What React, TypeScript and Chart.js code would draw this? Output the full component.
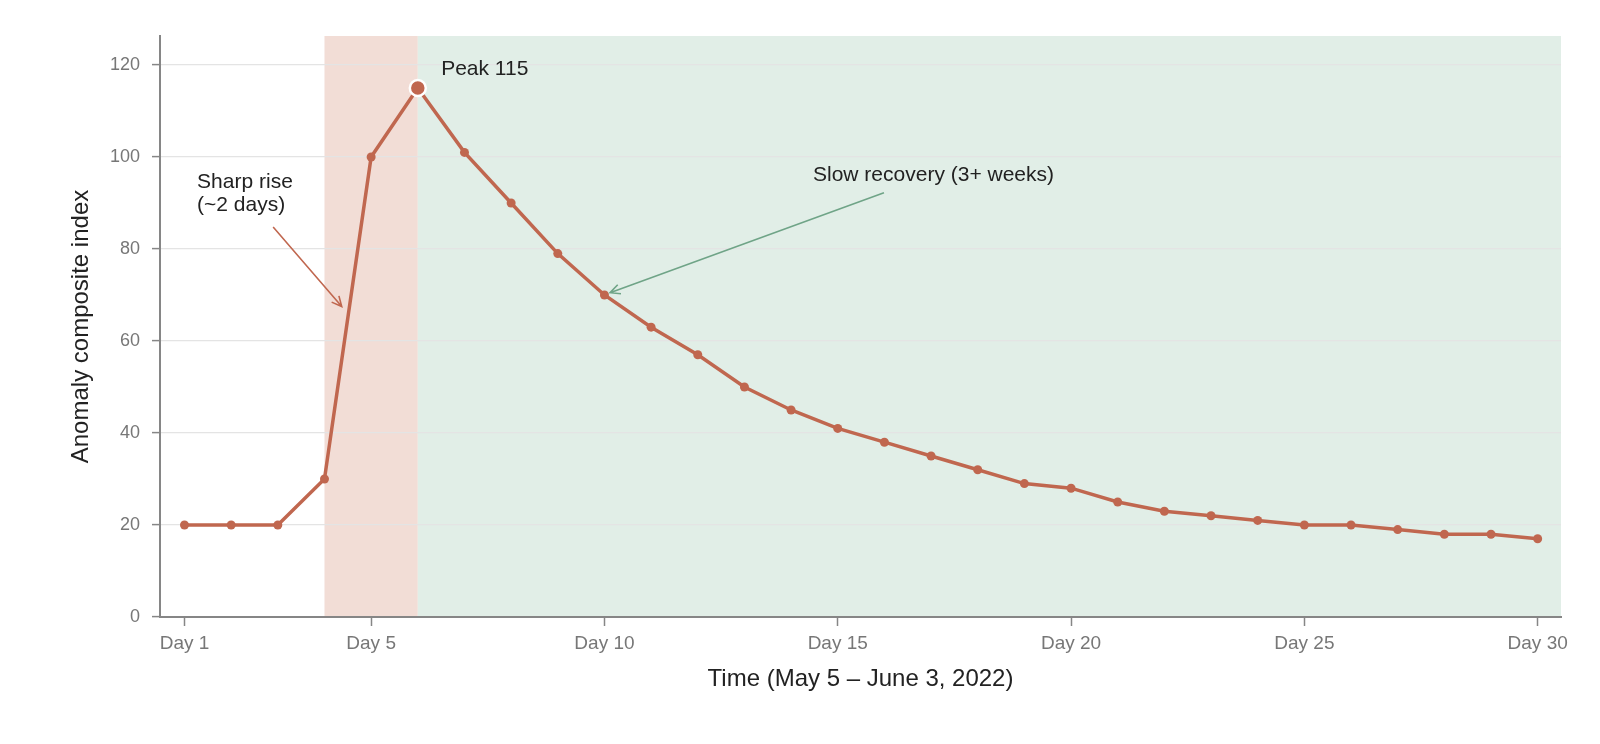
import { useEffect, useRef } from 'react'
import { Chart, registerables } from 'chart.js'

Chart.register(...registerables)

// Daily anomaly composite index, Day 1 .. Day 30
const days = [1, 2, 3, 4, 5, 6, 7, 8, 9, 10, 11, 12, 13, 14, 15, 16, 17, 18, 19, 20, 21, 22, 23, 24, 25, 26, 27, 28, 29, 30]
const anomalyIndex = [20, 20, 20, 30, 100, 115, 101, 90, 79, 70, 63, 57, 50, 45, 41, 38, 35, 32, 29, 28, 25, 23, 22, 21, 20, 20, 19, 18, 18, 17]

const xTickDays = [1, 5, 10, 15, 20, 25, 30]
const yTickValues = [0, 20, 40, 60, 80, 100, 120]

// shaded phases, in days
const riseBand = [4, 6]
const recoveryBand = [6, 30.5]

// annotation anchors in data units: [day, value]
const peakLabelAt = [6.5, 117.8]
const riseLabelAt = [1.27, 93.3]
const riseArrow = [[2.9, 84.8], [4.37, 67.5]]
const recoveryLabelAt = [14.47, 94.8]
const recoveryArrow = [[15.99, 92.2], [10.12, 70.5]]

const LINE = '#c0674f'
const PINK = '#f2ddd6'
const GREEN = '#e1eee7'
const GREEN_ARROW = '#6fa487'
const AXIS = '#868686'
const FONT = "'Liberation Sans', Arial, sans-serif"

function drawArrow(ctx: CanvasRenderingContext2D, x1: number, y1: number, x2: number, y2: number, color: string) {
  const ang = Math.atan2(y2 - y1, x2 - x1)
  const head = 11
  ctx.save()
  ctx.strokeStyle = color
  ctx.lineWidth = 1.6
  ctx.beginPath()
  ctx.moveTo(x1, y1)
  ctx.lineTo(x2, y2)
  ctx.moveTo(x2 - head * Math.cos(ang - 0.45), y2 - head * Math.sin(ang - 0.45))
  ctx.lineTo(x2, y2)
  ctx.lineTo(x2 - head * Math.cos(ang + 0.45), y2 - head * Math.sin(ang + 0.45))
  ctx.stroke()
  ctx.restore()
}

const bandsPlugin = {
  id: 'bands',
  beforeDraw(chart: any) {
    const { ctx, chartArea, scales } = chart
    const x = scales.x
    ctx.save()
    ctx.fillStyle = PINK
    const p0 = x.getPixelForValue(riseBand[0])
    const p1 = x.getPixelForValue(riseBand[1])
    ctx.fillRect(p0, chartArea.top, p1 - p0, chartArea.bottom - chartArea.top)
    ctx.fillStyle = GREEN
    const g0 = x.getPixelForValue(recoveryBand[0])
    const g1 = x.getPixelForValue(recoveryBand[1])
    ctx.fillRect(g0, chartArea.top, g1 - g0, chartArea.bottom - chartArea.top)
    ctx.restore()
  },
}

const notesPlugin = {
  id: 'notes',
  afterDatasetsDraw(chart: any) {
    const { ctx, scales } = chart
    const px = (d: number) => scales.x.getPixelForValue(d)
    const py = (v: number) => scales.y.getPixelForValue(v)
    ctx.save()
    ctx.font = `21px ${FONT}`
    ctx.fillStyle = '#222'
    ctx.textAlign = 'left'
    ctx.textBaseline = 'alphabetic'
    ctx.fillText('Peak 115', px(peakLabelAt[0]), py(peakLabelAt[1]))
    ctx.fillText('Sharp rise', px(riseLabelAt[0]), py(riseLabelAt[1]))
    ctx.fillText('(~2 days)', px(riseLabelAt[0]), py(riseLabelAt[1]) + 23)
    ctx.fillText('Slow recovery (3+ weeks)', px(recoveryLabelAt[0]), py(recoveryLabelAt[1]))
    ctx.restore()
    drawArrow(ctx, px(riseArrow[0][0]), py(riseArrow[0][1]), px(riseArrow[1][0]), py(riseArrow[1][1]), LINE)
    drawArrow(ctx, px(recoveryArrow[0][0]), py(recoveryArrow[0][1]), px(recoveryArrow[1][0]), py(recoveryArrow[1][1]), GREEN_ARROW)
  },
}

export default function App() {
  const chartRef = useRef<HTMLCanvasElement>(null)
  const chartInstance = useRef<Chart | null>(null)

  useEffect(() => {
    if (!chartRef.current) return
    if (chartInstance.current) chartInstance.current.destroy()
    const ctx = chartRef.current.getContext('2d')
    if (!ctx) return

    const peak = Math.max(...anomalyIndex)
    const isPeak = (c: any) => anomalyIndex[c.dataIndex] === peak

    chartInstance.current = new Chart(ctx, {
      type: 'line',
      data: {
        datasets: [
          {
            label: 'Anomaly composite index',
            data: days.map((d, i) => ({ x: d, y: anomalyIndex[i] })),
            borderColor: LINE,
            borderWidth: 3.5,
            backgroundColor: LINE,
            pointBackgroundColor: LINE,
            pointBorderColor: (c: any) => (isPeak(c) ? '#ffffff' : LINE),
            pointBorderWidth: (c: any) => (isPeak(c) ? 2.5 : 0),
            pointRadius: (c: any) => (isPeak(c) ? 8 : 4.5),
            tension: 0,
          },
        ],
      },
      options: {
        responsive: true,
        maintainAspectRatio: false,
        animation: false,
        layout: { padding: { top: 36, right: 39, left: 0, bottom: 0 } },
        plugins: {
          legend: { display: false },
          tooltip: { enabled: false },
        },
        scales: {
          x: {
            type: 'linear',
            min: 0.475,
            max: 30.5,
            afterBuildTicks: (scale: any) => {
              scale.ticks = xTickDays.map(v => ({ value: v }))
            },
            afterFit: (scale: any) => {
              scale.height = 127
            },
            ticks: {
              callback: (v: any) => `Day ${v}`,
              color: '#777',
              font: { family: FONT, size: 19 },
              padding: 6,
              maxRotation: 0,
              autoSkip: false,
            },
            grid: {
              drawOnChartArea: false,
              tickLength: 9,
              tickColor: AXIS,
              tickWidth: 1.5,
            },
            border: { color: AXIS, width: 2 },
            title: {
              display: true,
              text: 'Time (May 5 – June 3, 2022)',
              color: '#222',
              font: { family: FONT, size: 24 },
              padding: { top: 0, bottom: 50 },
            },
          },
          y: {
            min: 0,
            max: 126.3,
            afterBuildTicks: (scale: any) => {
              scale.ticks = yTickValues.map(v => ({ value: v }))
            },
            afterFit: (scale: any) => {
              scale.width = 160
            },
            ticks: {
              color: '#777',
              font: { family: FONT, size: 18 },
              padding: 12,
            },
            grid: {
              color: '#e4e4e4',
              lineWidth: 1.2,
              tickLength: 8,
              tickColor: AXIS,
              tickWidth: 1.5,
            },
            border: { color: AXIS, width: 2 },
            title: {
              display: true,
              text: 'Anomaly composite index',
              color: '#222',
              font: { family: FONT, size: 24 },
              padding: { top: 67, bottom: 0 },
            },
          },
        },
      },
      plugins: [bandsPlugin, notesPlugin],
    })

    return () => {
      if (chartInstance.current) {
        chartInstance.current.destroy()
        chartInstance.current = null
      }
    }
  }, [])

  return (
    <div style={{ position: 'fixed', left: 0, top: 0, width: 1600, height: 744, background: '#fff' }}>
      <canvas ref={chartRef} />
    </div>
  )
}
